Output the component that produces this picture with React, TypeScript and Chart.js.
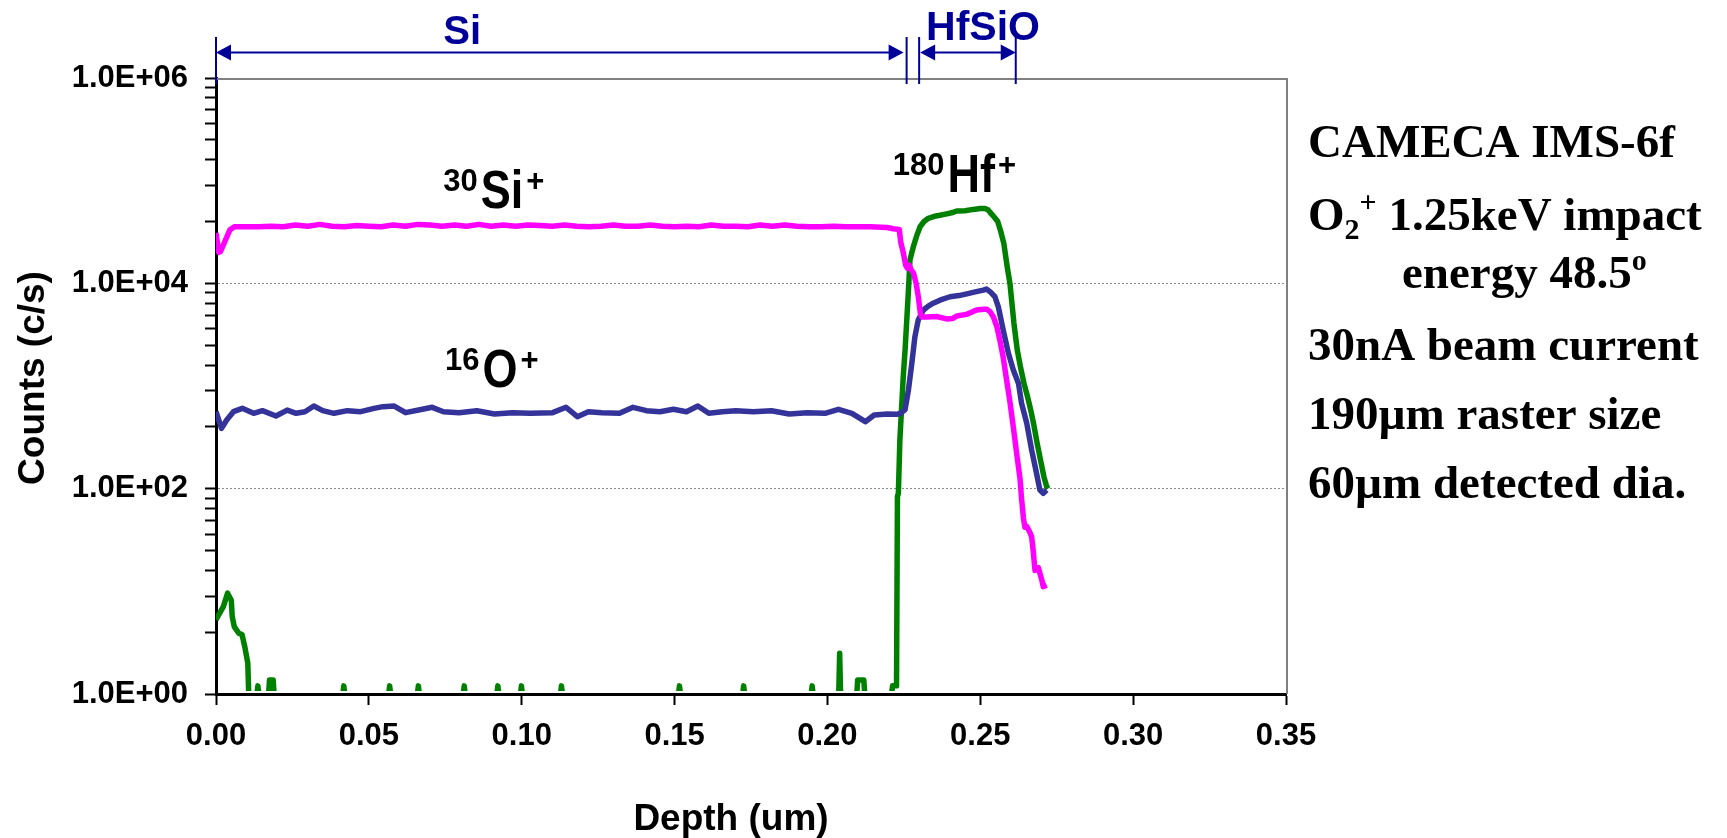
import React, { useEffect, useRef } from "react";
import { Chart, registerables } from "chart.js";

Chart.register(...registerables);

// 30Si+ counts (c/s) vs depth (um)
const siProfile: [number, number][] = [
  [0, 31000], [0.0009, 20000], [0.0015, 20500], [0.003, 26000], [0.0045, 33000], [0.006, 35500],
  [0.010, 35500], [0.014, 35500], [0.018, 36000], [0.022, 35500], [0.026, 37000], [0.030, 36000],
  [0.034, 37500], [0.038, 36000], [0.042, 35500], [0.046, 36500], [0.050, 36000], [0.054, 35500],
  [0.058, 37000], [0.062, 36000], [0.066, 37500], [0.070, 37000], [0.074, 36000], [0.078, 37000],
  [0.082, 36000], [0.086, 37500], [0.090, 36000], [0.094, 37000], [0.098, 36000], [0.102, 37000],
  [0.106, 36500], [0.110, 36000], [0.114, 37000], [0.118, 36000], [0.122, 35500], [0.126, 36000],
  [0.130, 37000], [0.134, 36000], [0.138, 36000], [0.142, 37000], [0.146, 36000], [0.150, 35500],
  [0.154, 36000], [0.158, 35500], [0.162, 37000], [0.166, 36000], [0.170, 36000], [0.174, 35500],
  [0.178, 37000], [0.182, 36000], [0.186, 37000], [0.190, 36000], [0.194, 35500], [0.198, 35500],
  [0.202, 36000], [0.206, 35500], [0.210, 35500], [0.214, 35500], [0.2195, 35000], [0.2215, 34000],
  [0.2235, 33500], [0.224, 25000], [0.2248, 20000], [0.2256, 15000], [0.2262, 14000], [0.2268, 15000],
  [0.2274, 13500], [0.2282, 12500], [0.229, 10000], [0.2297, 7500], [0.2304, 5100], [0.2309, 4700],
  [0.2325, 4700], [0.2357, 4750], [0.239, 4500], [0.241, 4550], [0.2423, 4800], [0.244, 4900],
  [0.2456, 5000], [0.2475, 5300], [0.2488, 5500], [0.251, 5600], [0.2521, 5600], [0.2532, 5300],
  [0.2543, 4700], [0.2554, 3800], [0.2564, 2800], [0.2575, 1900], [0.2586, 1150], [0.2597, 700],
  [0.2608, 400], [0.2619, 220], [0.263, 125], [0.2635, 80], [0.2641, 52], [0.2646, 42],
  [0.2652, 43], [0.2663, 37], [0.2668, 34], [0.2673, 25], [0.2679, 16], [0.269, 17],
  [0.2701, 13], [0.2706, 11.1], [0.2717, 11.5],
];

// 16O+ counts (c/s) vs depth (um)
const oProfile: [number, number][] = [
  [0, 562], [0.0018, 387], [0.0035, 467], [0.0057, 562], [0.0086, 606], [0.0123, 542],
  [0.0152, 575], [0.0196, 510], [0.0233, 583], [0.0262, 542], [0.0291, 562], [0.032, 638],
  [0.0349, 575], [0.0386, 542], [0.043, 575], [0.0473, 562], [0.0517, 606], [0.0546, 629],
  [0.0583, 638], [0.062, 550], [0.0663, 583], [0.0707, 620], [0.0744, 562], [0.0795, 550],
  [0.0853, 575], [0.0911, 534], [0.097, 550], [0.1028, 542], [0.1101, 550], [0.1145, 620],
  [0.1182, 503], [0.1218, 562], [0.1262, 550], [0.132, 542], [0.1364, 620], [0.1408, 575],
  [0.1452, 562], [0.1496, 593], [0.1539, 562], [0.1576, 638], [0.1612, 542], [0.1656, 562],
  [0.17, 575], [0.1758, 562], [0.1817, 575], [0.1875, 534], [0.1934, 550], [0.1992, 542],
  [0.2036, 593], [0.208, 542], [0.2124, 449], [0.2153, 522], [0.2196, 534], [0.2227, 530],
  [0.224, 545], [0.2254, 590], [0.2265, 915], [0.2276, 1660], [0.2286, 3000], [0.2297, 4400],
  [0.2314, 5500], [0.233, 6000], [0.2346, 6400], [0.237, 6900], [0.2401, 7400], [0.243, 7600],
  [0.2456, 7900], [0.248, 8200], [0.251, 8600], [0.252, 8800], [0.2532, 8300], [0.2548, 7400],
  [0.2559, 5900], [0.2575, 3500], [0.2592, 2080], [0.2608, 1430], [0.2625, 1060], [0.2635, 679],
  [0.2652, 434], [0.2668, 238], [0.2684, 141], [0.2695, 97], [0.2706, 90], [0.2717, 97],
];

// 180Hf+ counts (c/s) vs depth (um); 1 c/s sits on the axis floor
const hfProfile: [number, number][] = [
  [0, 5.3], [0.0024, 7.1], [0.0038, 9.6], [0.005, 8.2], [0.0053, 5.7], [0.006, 4.5],
  [0.0075, 3.9], [0.0085, 3.8], [0.0094, 2.9], [0.0104, 2.0], [0.0107, 1],
  [0.0134, 1], [0.0137, 1.2], [0.014, 1],
  [0.0172, 1], [0.0175, 1.37], [0.0187, 1.37], [0.019, 1],
  [0.0415, 1], [0.0418, 1.2], [0.0421, 1],
  [0.0565, 1], [0.0568, 1.2], [0.0571, 1],
  [0.0659, 1], [0.0662, 1.2], [0.0665, 1],
  [0.0809, 1], [0.0812, 1.2], [0.0815, 1],
  [0.0919, 1], [0.0922, 1.2], [0.0925, 1],
  [0.0996, 1], [0.0999, 1.2], [0.1002, 1],
  [0.1127, 1], [0.113, 1.2], [0.1133, 1],
  [0.1513, 1], [0.1516, 1.2], [0.1519, 1],
  [0.1723, 1], [0.1726, 1.2], [0.1729, 1],
  [0.1947, 1], [0.195, 1.2], [0.1953, 1],
  [0.2037, 1], [0.204, 2.5], [0.2043, 1],
  [0.2096, 1], [0.2099, 1.37], [0.2119, 1.37], [0.2122, 1],
  [0.221, 1], [0.2213, 1.2], [0.2226, 1.2], [0.2229, 84], [0.2232, 90], [0.2237, 300],
  [0.2248, 1230], [0.2254, 2240], [0.2265, 8600], [0.227, 16900], [0.2281, 22700], [0.2292, 29000],
  [0.2303, 35600], [0.2316, 40000], [0.233, 43000], [0.235, 45000], [0.2368, 46000], [0.239, 47500],
  [0.241, 49000], [0.2423, 50700], [0.245, 51000], [0.2477, 52500], [0.25, 53500], [0.2515, 53700],
  [0.2525, 52000], [0.2535, 48000], [0.2546, 44000], [0.2557, 40000], [0.2567, 32000], [0.2577, 24500],
  [0.2588, 14500], [0.2597, 10000], [0.261, 4100], [0.2621, 2240], [0.2632, 1500], [0.2643, 1060],
  [0.2654, 800], [0.2665, 583], [0.2675, 420], [0.2686, 277], [0.2697, 190], [0.2708, 131],
  [0.2717, 105], [0.2722, 100],
];

const depthTicks = [0, 0.05, 0.1, 0.15, 0.2, 0.25, 0.3, 0.35];
const countMajors = [1, 1e2, 1e4, 1e6];
// minor marks of a base-100 log axis fall at k^2 within each 100x span
const minorFactors = [4, 9, 16, 25, 36, 49, 64, 81];

// layer boundaries (um) for the Si / HfSiO brackets
const layerBounds = [0, 0.2259, 0.23, 0.2616];

const SANS = '"Liberation Sans", Arial, Helvetica, sans-serif';
const SERIF = '"Liberation Serif", "Times New Roman", Times, serif';
const NAVY = "#000099";

const fmtCount = (v: number) => {
  const e = Math.round(Math.log10(v));
  return `1.0E+${String(e).padStart(2, "0")}`;
};

const toPoints = (rows: [number, number][]) => rows.map(([x, y]) => ({ x, y }));

type Seg = [string, number, number];

function drawSegs(ctx: CanvasRenderingContext2D, x: number, y: number, segs: Seg[], family: string) {
  let cx = x;
  for (const [t, size, dy] of segs) {
    ctx.font = `bold ${size}px ${family}`;
    ctx.fillText(t, cx, y + dy);
    cx += ctx.measureText(t).width;
  }
}

function drawIon(ctx: CanvasRenderingContext2D, x: number, base: number, mass: string, sym: string) {
  ctx.font = `bold 31px ${SANS}`;
  ctx.fillText(mass, x, base - 17);
  let cx = x + ctx.measureText(mass).width + 3;
  ctx.save();
  ctx.translate(cx, base);
  ctx.scale(0.85, 1);
  ctx.font = `bold 53px ${SANS}`;
  ctx.fillText(sym, 0, 0);
  const w = ctx.measureText(sym).width * 0.85;
  ctx.restore();
  cx += w + 3;
  ctx.font = `bold 31px ${SANS}`;
  ctx.fillText("+", cx, base - 17);
}

function arrow(ctx: CanvasRenderingContext2D, x1: number, x2: number, y: number) {
  const hl = 15, hw = 8;
  ctx.beginPath();
  ctx.moveTo(x1 + hl - 2, y);
  ctx.lineTo(x2 - hl + 2, y);
  ctx.stroke();
  ctx.beginPath();
  ctx.moveTo(x1, y);
  ctx.lineTo(x1 + hl, y - hw);
  ctx.lineTo(x1 + hl, y + hw);
  ctx.closePath();
  ctx.fill();
  ctx.beginPath();
  ctx.moveTo(x2, y);
  ctx.lineTo(x2 - hl, y - hw);
  ctx.lineTo(x2 - hl, y + hw);
  ctx.closePath();
  ctx.fill();
}

const decorPlugin = {
  id: "profileDecor",
  beforeDatasetsDraw(chart: any) {
    const { ctx, chartArea: a } = chart;
    ctx.save();
    ctx.strokeStyle = "#808080";
    ctx.lineWidth = 2;
    ctx.beginPath();
    ctx.moveTo(a.left, a.top + 1);
    ctx.lineTo(a.right + 1, a.top + 1);
    ctx.lineTo(a.right + 1, a.bottom);
    ctx.stroke();
    ctx.restore();
  },
  afterDraw(chart: any) {
    const { ctx, chartArea: a } = chart;
    const xs = chart.scales.x;
    const ys = chart.scales.y;
    ctx.save();
    ctx.textAlign = "left";
    ctx.textBaseline = "alphabetic";

    // layer brackets
    ctx.strokeStyle = NAVY;
    ctx.fillStyle = NAVY;
    ctx.lineWidth = 2;
    const bx = layerBounds.map((b) => xs.getPixelForValue(b));
    for (const x of bx) {
      ctx.beginPath();
      ctx.moveTo(x, a.top - 41);
      ctx.lineTo(x, a.top + 6);
      ctx.stroke();
    }
    const ay = a.top - 25.5;
    arrow(ctx, bx[0], bx[1] - 3, ay);
    arrow(ctx, bx[2] + 1, bx[3], ay);
    ctx.textAlign = "center";
    ctx.font = `bold 40px ${SANS}`;
    ctx.fillText("Si", xs.getPixelForValue(0.0805), a.top - 34);
    ctx.font = `bold 41px ${SANS}`;
    ctx.fillText("HfSiO", xs.getPixelForValue(0.2509), a.top - 38);

    // ion labels
    ctx.fillStyle = "#000";
    ctx.textAlign = "left";
    drawIon(ctx, xs.getPixelForValue(0.0743), ys.getPixelForValue(5.4e4), "30", "Si");
    drawIon(ctx, xs.getPixelForValue(0.0749), ys.getPixelForValue(977), "16", "O");
    drawIon(ctx, xs.getPixelForValue(0.2214), ys.getPixelForValue(7.76e4), "180", "Hf");

    // axis titles
    ctx.textAlign = "center";
    ctx.font = `bold 37px ${SANS}`;
    ctx.fillText("Depth (um)", (a.left + a.right) / 2 - 20, 830);
    ctx.save();
    ctx.translate(44, (a.top + a.bottom) / 2 - 8);
    ctx.rotate(-Math.PI / 2);
    ctx.font = `bold 37px ${SANS}`;
    ctx.fillText("Counts (c/s)", 0, 0);
    ctx.restore();

    // instrument conditions
    ctx.textAlign = "left";
    const L = a.right + 22;
    const F = 47;
    drawSegs(ctx, L, 157, [["CAMECA IMS-6f", F, 0]], SERIF);
    drawSegs(ctx, L, 230, [["O", F, 0], ["2", 30, 9], ["+", 30, -18], [" 1.25keV impact", F, 0]], SERIF);
    drawSegs(ctx, L + 94, 288, [["energy 48.5", F, 0], ["o", 30, -18]], SERIF);
    drawSegs(ctx, L, 360, [["30nA beam current", F, 0]], SERIF);
    drawSegs(ctx, L, 429, [["190\u00b5m raster size", F, 0]], SERIF);
    drawSegs(ctx, L, 498, [["60\u00b5m detected dia.", F, 0]], SERIF);
    ctx.restore();
  },
};

export default function App() {
  const ref = useRef<HTMLCanvasElement | null>(null);

  useEffect(() => {
    const canvas = ref.current;
    if (!canvas) return;
    const line = (label: string, rows: [number, number][], color: string) => ({
      label,
      data: toPoints(rows),
      borderColor: color,
      backgroundColor: color,
      borderWidth: 5.5,
      pointRadius: 0,
      tension: 0,
      fill: false,
      borderJoinStyle: "round" as const,
      clip: { left: 0, top: 0, right: 0, bottom: -3 },
    });

    const chart = new Chart(canvas, {
      type: "line",
      data: {
        datasets: [
          line("30Si+", siProfile, "#FF00FF"),
          line("16O+", oProfile, "#333399"),
          line("180Hf+", hfProfile, "#008000"),
        ],
      },
      options: {
        responsive: false,
        animation: false,
        devicePixelRatio: 1,
        events: [],
        layout: { padding: { left: 0, top: 78, right: 441, bottom: 0 } },
        plugins: { legend: { display: false }, tooltip: { enabled: false } },
        scales: {
          x: {
            type: "linear",
            position: "bottom",
            min: 0,
            max: 0.35,
            afterBuildTicks: (s: any) => {
              s.ticks = depthTicks.map((v) => ({ value: v }));
            },
            afterFit: (s: any) => {
              s.height = 144;
            },
            ticks: {
              autoSkip: false,
              maxRotation: 0,
              minRotation: 0,
              padding: 13,
              color: "#000",
              font: { family: SANS, size: 31, weight: "bold" },
              callback: (v: any) => Number(v).toFixed(2),
            },
            grid: { drawOnChartArea: false, drawTicks: true, tickLength: 11, tickWidth: 2, tickColor: "#000" },
            border: { display: true, color: "#000", width: 3 },
          },
          y: {
            type: "logarithmic",
            min: 1,
            max: 1e6,
            afterBuildTicks: (s: any) => {
              const t: { value: number; major: boolean }[] = [];
              for (let i = 0; i < countMajors.length; i++) {
                t.push({ value: countMajors[i], major: true });
                if (i < countMajors.length - 1) {
                  for (const k of minorFactors) t.push({ value: countMajors[i] * k, major: false });
                }
              }
              s.ticks = t;
            },
            afterFit: (s: any) => {
              s.width = 216;
            },
            ticks: {
              autoSkip: false,
              padding: 17,
              color: "#000",
              font: { family: SANS, size: 31, weight: "bold" },
              callback: (v: any) => (countMajors.includes(Number(v)) ? fmtCount(Number(v)) : ""),
            },
            grid: {
              drawOnChartArea: true,
              lineWidth: 1,
              color: (c: any) =>
                c.tick && (c.tick.value === 1e2 || c.tick.value === 1e4) ? "#8a8a8a" : "rgba(0,0,0,0)",
              drawTicks: true,
              tickLength: 11,
              tickWidth: 2,
              tickColor: "#000",
            },
            border: { display: true, color: "#000", width: 3, dash: (c: any) => (c.tick ? [2, 2] : []) },
          },
        },
      } as any,
      plugins: [decorPlugin],
    });
    return () => chart.destroy();
  }, []);

  return (
    <div style={{ position: "fixed", left: 0, top: 0, width: 1727, height: 838, background: "#fff" }}>
      <canvas ref={ref} width={1727} height={838} style={{ display: "block", width: 1727, height: 838 }} />
    </div>
  );
}
